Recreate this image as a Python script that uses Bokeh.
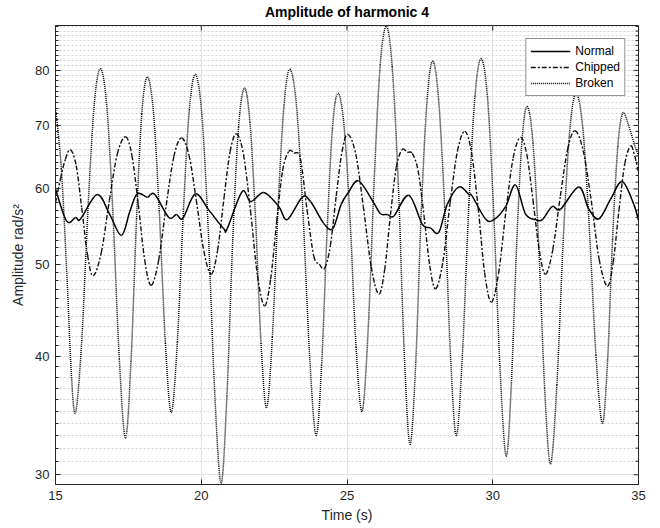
import math
from bokeh.plotting import figure
from bokeh.models import Range1d, FixedTicker, PrintfTickFormatter
from bokeh.embed import file_html
from bokeh.resources import INLINE

# ---- data ----
normal_t = [15.0, 15.38, 15.69, 15.86, 16.43, 16.85, 17.26, 17.55, 17.80, 18.15, 18.26, 18.43, 18.89, 19.15, 19.37,
            19.80, 20.26, 20.77, 20.89, 21.40, 21.70, 22.15, 22.66, 22.95, 23.46, 23.75, 24.20, 24.51, 24.80,
            25.05, 25.40, 25.92, 26.15, 26.38, 26.61, 27.12, 27.58, 27.86, 28.15, 28.44, 28.84, 29.18, 29.29,
            29.75, 30.04, 30.44, 30.78, 31.12, 31.47, 31.70, 32.04, 32.32, 32.95, 33.29, 33.64, 34.04, 34.44,
            34.84, 35.0]
normal_v = [60.0, 55.5, 56.0, 55.8, 59.2, 56.5, 53.6, 56.8, 59.3, 58.8, 59.2, 59.1, 56.0, 56.4, 55.9,
            59.3, 57.0, 54.5, 54.5, 59.6, 58.2, 59.5, 57.5, 55.7, 58.8, 58.2, 55.2, 54.5, 57.8,
            59.5, 61.2, 58.0, 56.5, 56.4, 56.2, 59.1, 55.1, 54.6, 54.0, 57.8, 60.3, 59.2, 59.0,
            55.8, 55.7, 57.5, 60.6, 56.5, 55.7, 55.7, 57.5, 57.1, 60.3, 57.2, 55.8, 58.5, 61.1,
            57.8, 55.6]

chipped_t = [15.00, 15.17, 15.34, 15.51, 15.71, 15.90, 16.10, 16.29, 16.57, 16.85, 17.12, 17.40, 17.62, 17.84,
             18.06, 18.28, 18.54, 18.80, 19.06, 19.32, 19.58, 19.83, 20.09, 20.34, 20.56, 20.78, 20.99, 21.21,
             21.45, 21.69, 21.93, 22.17, 22.38, 22.59, 22.79, 23.00, 23.18, 23.40, 23.63, 23.86, 24.05, 24.23,
             24.43, 24.63, 24.83, 25.03, 25.30, 25.56, 25.83, 26.09, 26.29, 26.49, 26.69, 26.89, 27.07, 27.24,
             27.44, 27.64, 27.84, 28.04, 28.29, 28.54, 28.79, 29.04, 29.27, 29.50, 29.72, 29.95, 30.20, 30.45,
             30.70, 30.95, 31.17, 31.38, 31.60, 31.81, 32.06, 32.32, 32.57, 32.82, 33.10, 33.38, 33.65, 33.93,
             34.13, 34.33, 34.53, 34.73, 34.87, 35.00]
chipped_v = [58.0, 61.5, 64.5, 66.0, 63.5, 57.3, 51.1, 48.6, 51.4, 58.4, 65.3, 68.1, 65.1, 57.8,
             50.5, 47.5, 50.5, 57.7, 64.9, 67.9, 65.1, 58.4, 51.6, 48.8, 51.7, 58.7, 65.7, 68.6,
             65.2, 56.9, 48.6, 45.2, 48.2, 55.5, 62.7, 65.7, 65.5, 64.6, 57.0, 51.0, 50.0, 49.5,
             52.3, 59.0, 65.7, 68.5, 65.3, 57.5, 49.7, 46.5, 49.3, 56.3, 63.2, 66.0, 65.6, 65.4,
             62.7, 56.3, 49.8, 47.1, 50.3, 58.1, 65.8, 69.0, 65.6, 57.3, 49.0, 45.6, 48.9, 56.8,
             64.7, 68.0, 65.2, 58.4, 51.6, 48.8, 51.8, 59.0, 66.1, 69.1, 65.9, 58.3, 50.6, 47.4,
             50.2, 57.0, 63.8, 66.6, 65.0, 62.5]

broken_t = [15.00, 15.20, 15.40, 15.55, 15.69, 15.90, 16.12, 16.33, 16.54, 16.76, 16.97, 17.19, 17.40, 17.59,
            17.78, 17.96, 18.15, 18.36, 18.56, 18.77, 18.97, 19.18, 19.39, 19.59, 19.80, 20.02, 20.24, 20.46,
            20.68, 20.88, 21.08, 21.28, 21.48, 21.67, 21.86, 22.05, 22.24, 22.44, 22.64, 22.84, 23.04, 23.27,
            23.49, 23.72, 23.94, 24.13, 24.32, 24.50, 24.69, 24.90, 25.11, 25.31, 25.52, 25.73, 25.94, 26.14,
            26.35, 26.55, 26.76, 26.96, 27.16, 27.36, 27.55, 27.75, 27.94, 28.14, 28.35, 28.55, 28.75, 28.96,
            29.18, 29.39, 29.60, 29.82, 30.03, 30.25, 30.46, 30.64, 30.82, 31.00, 31.18, 31.38, 31.58, 31.78,
            31.98, 32.20, 32.42, 32.64, 32.86, 33.09, 33.31, 33.54, 33.76, 33.94, 34.11, 34.29, 34.46, 34.66,
            34.85, 35.00]
broken_v = [73.0, 63.0, 48.0, 38.0, 34.9, 41.5, 57.6, 73.7, 80.3, 73.4, 56.5, 39.7, 32.8, 39.5,
            55.8, 72.0, 78.7, 72.3, 56.8, 41.3, 34.9, 41.4, 57.1, 72.7, 79.2, 71.9, 54.3, 36.7,
            29.4, 36.3, 53.0, 69.7, 76.6, 70.6, 56.0, 41.3, 35.3, 41.9, 57.8, 73.6, 80.2, 73.3,
            56.6, 39.9, 33.0, 39.2, 54.4, 69.5, 75.7, 69.8, 55.4, 40.9, 35.0, 42.9, 62.0, 81.1,
            89.0, 80.7, 60.7, 40.6, 32.3, 39.5, 57.1, 74.6, 81.8, 74.7, 57.4, 40.1, 33.0, 40.2,
            57.7, 75.1, 82.3, 74.9, 56.9, 38.8, 31.4, 37.5, 52.4, 67.2, 73.3, 67.1, 52.1, 37.0,
            30.8, 37.3, 53.2, 69.1, 75.6, 69.5, 54.8, 40.1, 34.0, 39.6, 53.1, 66.5, 72.1, 70.0,
            67.0, 65.0]

series_names = ["Normal", "Chipped", "Broken"]
x_ticks = [15, 20, 25, 30, 35]
y_ticks = [30, 40, 50, 60, 70, 80]
y_minor = [v for v in range(30, 90) if v % 10 != 0]
X_LO, X_HI = 15, 35
Y_LO, Y_HI = 29.3, 89.2

FONT = "Liberation Sans"
AX = "#262626"

p = figure(width=660, height=528, output_backend="svg", toolbar_location=None,
           y_axis_type="log", x_range=Range1d(X_LO, X_HI), y_range=Range1d(Y_LO, Y_HI),
           min_border_left=55, min_border_right=22, min_border_top=24, min_border_bottom=44)

p.title.text = "Amplitude of harmonic 4"
p.title.align = "center"
p.title.vertical_align = "top"
p.title.text_font = FONT
p.title.text_font_size = "14px"
p.title.text_font_style = "bold"
p.title.text_color = "black"
p.title.standoff = 7


def smooth_curve(fig, xs, ys, **style):
    """Draw a smooth (Catmull-Rom style) curve through the given points using Bezier segments (log y)."""
    ly = [math.log10(v) for v in ys]
    n = len(xs)
    d = dict(x0=[], y0=[], x1=[], y1=[], cx0=[], cy0=[], cx1=[], cy1=[])
    for i in range(n - 1):
        im, ip = max(i - 1, 0), min(i + 2, n - 1)
        d["x0"].append(xs[i]); d["y0"].append(ys[i])
        d["x1"].append(xs[i + 1]); d["y1"].append(ys[i + 1])
        d["cx0"].append(xs[i] + (xs[i + 1] - xs[im]) / 6.0)
        d["cy0"].append(10 ** (ly[i] + (ly[i + 1] - ly[im]) / 6.0))
        d["cx1"].append(xs[i + 1] - (xs[ip] - xs[i]) / 6.0)
        d["cy1"].append(10 ** (ly[i + 1] - (ly[ip] - ly[i]) / 6.0))
    fig.bezier(source=d, x0="x0", y0="y0", x1="x1", y1="y1",
               cx0="cx0", cy0="cy0", cx1="cx1", cy1="cy1", **style)


normal_style = dict(line_color="black", line_width=1.5)
chipped_style = dict(line_color="#111111", line_width=1.4, line_dash="5 2 2 2")
broken_style = dict(line_color="black", line_width=1.5, line_dash="1 1")

smooth_curve(p, normal_t, normal_v, **normal_style)
smooth_curve(p, chipped_t, chipped_v, **chipped_style)
smooth_curve(p, broken_t, broken_v, **broken_style)

# legend entries: one-point lines (draw nothing in the plot, only the legend sample)
p.line([normal_t[0]], [normal_v[0]], legend_label=series_names[0], **normal_style)
p.line([chipped_t[0]], [chipped_v[0]], legend_label=series_names[1], **chipped_style)
p.line([broken_t[0]], [broken_v[0]], legend_label=series_names[2], **broken_style)

# axes
p.xaxis.ticker = FixedTicker(ticks=x_ticks)
p.yaxis.ticker = FixedTicker(ticks=y_ticks, minor_ticks=y_minor)
p.yaxis.formatter = PrintfTickFormatter(format="%d")
for ax in [p.xaxis[0], p.yaxis[0]]:
    ax.axis_line_color = AX
    ax.major_tick_line_color = AX
    ax.minor_tick_line_color = AX
    ax.major_tick_in = 5
    ax.major_tick_out = 0
    ax.minor_tick_in = 3
    ax.minor_tick_out = 0
    ax.major_label_text_font = FONT
    ax.major_label_text_font_size = "13px"
    ax.major_label_text_color = AX
    ax.axis_label_text_font = FONT
    ax.axis_label_text_font_size = "14px"
    ax.axis_label_text_font_style = "normal"
    ax.axis_label_text_color = AX
p.xaxis.minor_tick_line_color = None
p.xaxis.axis_label = "Time (s)"
p.yaxis.axis_label = "Amplitude rad/s²"
p.xaxis.major_label_standoff = 6
p.yaxis.major_label_standoff = 6
p.xaxis.axis_label_standoff = 4
p.yaxis.axis_label_standoff = 6

# box ticks on the right and top edges (MATLAB style "box on")
p.ray(x=[X_HI] * len(y_ticks), y=y_ticks, length=5, length_units="screen", angle=math.pi,
      line_color=AX, line_width=1)
p.ray(x=[X_HI] * len(y_minor), y=y_minor, length=3, length_units="screen", angle=math.pi,
      line_color=AX, line_width=1)
p.ray(x=x_ticks, y=[Y_HI] * len(x_ticks), length=5, length_units="screen", angle=-math.pi / 2,
      line_color=AX, line_width=1)

p.outline_line_color = AX
p.outline_line_width = 1

# grids
p.xgrid.ticker = FixedTicker(ticks=x_ticks)
p.xgrid.grid_line_color = "#e3e3e3"
p.ygrid.ticker = FixedTicker(ticks=y_ticks, minor_ticks=y_minor)
p.ygrid.grid_line_color = "#e3e3e3"
p.ygrid.minor_grid_line_color = "#d2d2d2"
p.ygrid.minor_grid_line_dash = "2 2"

# legend
lg = p.legend[0]
lg.location = "top_right"
lg.margin = 13
lg.padding = 4
lg.spacing = 0
lg.glyph_width = 40
lg.glyph_height = 16
lg.label_height = 16
lg.label_standoff = 5
lg.label_text_font = FONT
lg.label_text_font_size = "12px"
lg.label_text_color = "black"
lg.border_line_color = AX
lg.border_line_width = 1
lg.background_fill_alpha = 1

open("out.html", "w").write(file_html(p, INLINE))
